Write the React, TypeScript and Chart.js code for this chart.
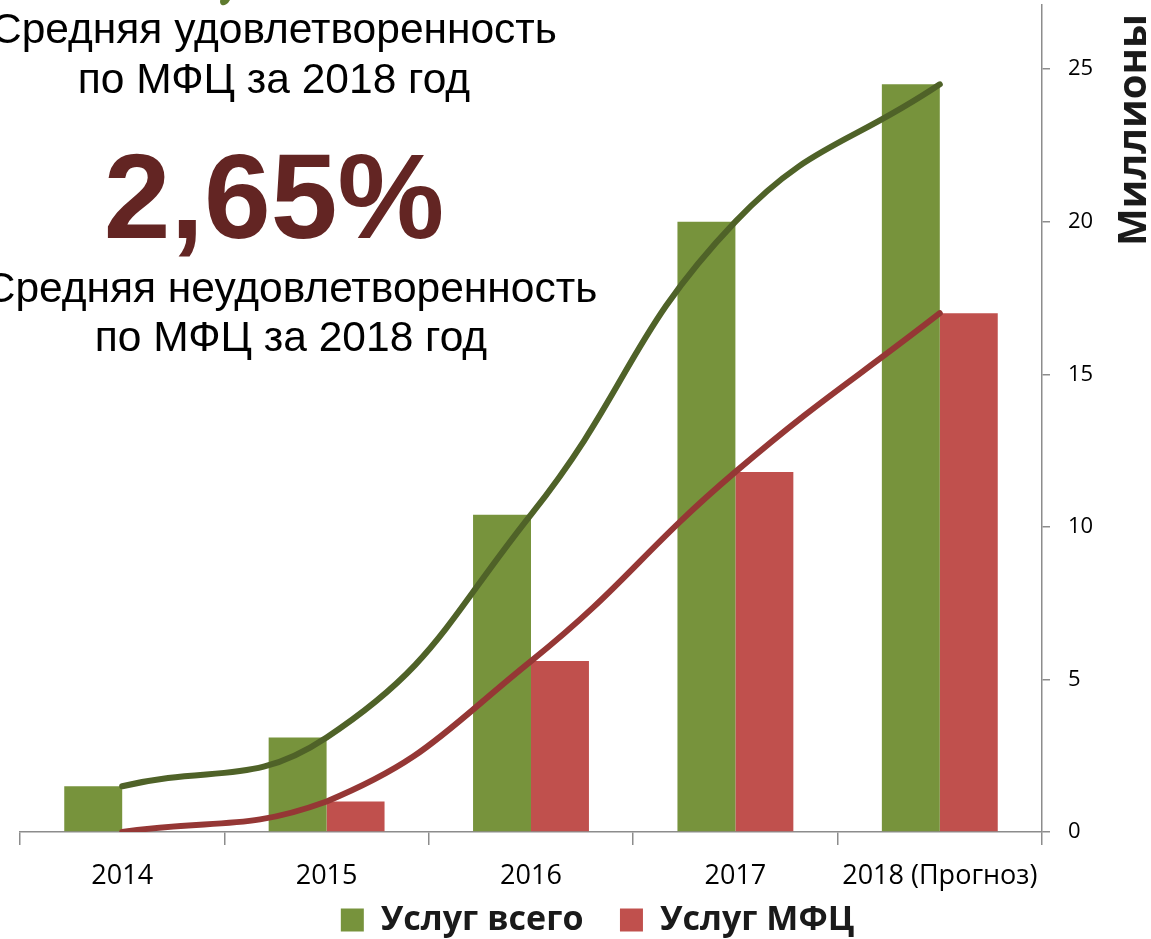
import React, { useEffect, useRef } from "react";
import { Chart, registerables } from "chart.js";

Chart.register(...registerables);

// ---- data ----
const categories = ["2014", "2015", "2016", "2017", "2018 (Прогноз)"];
const totalServices = [1.5, 3.1, 10.4, 20.0, 24.5];
const mfcServices = [0, 1.0, 5.6, 11.8, 17.0];
const seriesNames = ["Услуг всего", "Услуг МФЦ"];
const yAxisTitle = "Миллионы";
const yMax = 27.1;
const yStep = 5;
const satisfactionTitle = ["Средняя удовлетворенность", "по МФЦ за 2018 год"];
const satisfactionValue = "2,65%";
const dissatisfactionTitle = ["Средняя неудовлетворенность", "по МФЦ за 2018 год"];

const W = 1151;
const H = 939;

export default function App() {
  const canvasRef = useRef<HTMLCanvasElement | null>(null);

  useEffect(() => {
    const canvas = canvasRef.current;
    if (!canvas) return;
    const chart = new Chart(canvas, {
      type: "bar",
      data: {
        labels: categories,
        datasets: [
          {
            type: "line",
            label: "trend-total",
            data: totalServices,
            borderColor: "#4F6228",
            borderWidth: 6,
            pointRadius: 0,
            tension: 0.45,
            fill: false,
            borderCapStyle: "round",
            order: 0,
          } as any,
          {
            type: "line",
            label: "trend-mfc",
            data: mfcServices,
            borderColor: "#953735",
            borderWidth: 6,
            pointRadius: 0,
            tension: 0.45,
            fill: false,
            borderCapStyle: "round",
            order: 0,
          } as any,
          {
            type: "bar",
            label: seriesNames[0],
            data: totalServices,
            backgroundColor: "#77933C",
            barPercentage: 1,
            categoryPercentage: 0.567,
            order: 1,
          },
          {
            type: "bar",
            label: seriesNames[1],
            data: mfcServices,
            backgroundColor: "#C0504D",
            barPercentage: 1,
            categoryPercentage: 0.567,
            order: 1,
          },
        ],
      },
      options: {
        animation: false,
        responsive: false,
        maintainAspectRatio: false,
        layout: { padding: { left: 20, right: -24, top: 5, bottom: -8 } },
        plugins: {
          legend: {
            position: "bottom",
            labels: {
              filter: (item: any) => item.datasetIndex >= 2,
              generateLabels: (c: any) => {
                const items = Chart.defaults.plugins.legend.labels.generateLabels(c);
                return items.map((it: any) =>
                  it.datasetIndex === 2 ? { ...it, text: it.text + "   " } : it
                );
              },
              boxWidth: 23,
              boxHeight: 23,
              padding: 10,
              color: "#1a1a1a",
              font: { family: "'Open Sans', sans-serif", weight: "bold", size: 34 },
            },
          },
          tooltip: { enabled: false },
        },
        scales: {
          x: {
            grid: {
              offset: true,
              drawOnChartArea: false,
              tickLength: 13,
              color: "#8c8c8c",
              lineWidth: 1.5,
            },
            border: { color: "#8c8c8c", width: 1.5 },
            ticks: {
              color: "#000",
              font: { family: "'Open Sans', sans-serif", size: 27 },
              padding: 15,
              maxRotation: 0,
              autoSkip: false,
            },
            afterFit: (s: any) => {
              s.height = 61;
              s.paddingLeft = 0;
              s.paddingRight = 0;
            },
          },
          y: {
            position: "right",
            min: 0,
            max: yMax,
            ticks: {
              stepSize: yStep,
              includeBounds: false,
              padding: 18,
              color: "#000",
              font: { family: "'Open Sans', sans-serif", size: 22 },
            },
            grid: {
              drawOnChartArea: false,
              tickLength: 8,
              color: "#8c8c8c",
              lineWidth: 1.5,
            },
            border: { color: "#8c8c8c", width: 1.5 },
            afterFit: (s: any) => {
              s.width = 133;
              s.paddingTop = 0;
              s.paddingBottom = 0;
            },
          },
        },
      },
    });
    return () => chart.destroy();
  }, []);

  const textBase: React.CSSProperties = {
    position: "absolute",
    textAlign: "center",
    whiteSpace: "nowrap",
    fontFamily: "'Liberation Sans', Arial, sans-serif",
    color: "#000",
    pointerEvents: "none",
  };

  return (
    <div
      style={{
        position: "absolute",
        left: 0,
        top: 0,
        width: W,
        height: H,
        overflow: "hidden",
        background: "#fff",
      }}
    >
      <canvas ref={canvasRef} width={W} height={H} style={{ display: "block", width: W, height: H }} />
      <div
        style={{
          position: "absolute",
          left: 221,
          top: -8,
          width: 9,
          height: 14,
          background: "#5E7A2E",
          borderRadius: "0 0 60% 40%",
          transform: "rotate(25deg)",
        }}
      />
      <div style={{ ...textBase, left: 274 - 400, top: 4, width: 800, fontSize: 42.5, lineHeight: "50px" }}>
        {satisfactionTitle.map((t, i) => (
          <div key={i}>{t}</div>
        ))}
      </div>
      <div
        style={{
          ...textBase,
          left: 274 - 400,
          top: 136,
          width: 800,
          fontSize: 120,
          lineHeight: "120px",
          fontWeight: "bold",
          color: "#632523",
        }}
      >
        {satisfactionValue}
      </div>
      <div style={{ ...textBase, left: 291 - 400, top: 263, width: 800, fontSize: 42.5, lineHeight: "49px" }}>
        {dissatisfactionTitle.map((t, i) => (
          <div key={i}>{t}</div>
        ))}
      </div>
      <div
        style={{
          ...textBase,
          left: 1131 - 130,
          top: 130 - 20,
          width: 260,
          height: 40,
          fontSize: 40,
          lineHeight: "40px",
          fontWeight: "bold",
          fontFamily: "'Open Sans', sans-serif",
          color: "#1a1a1a",
          transform: "rotate(-90deg)",
        }}
      >
        {yAxisTitle}
      </div>
    </div>
  );
}
